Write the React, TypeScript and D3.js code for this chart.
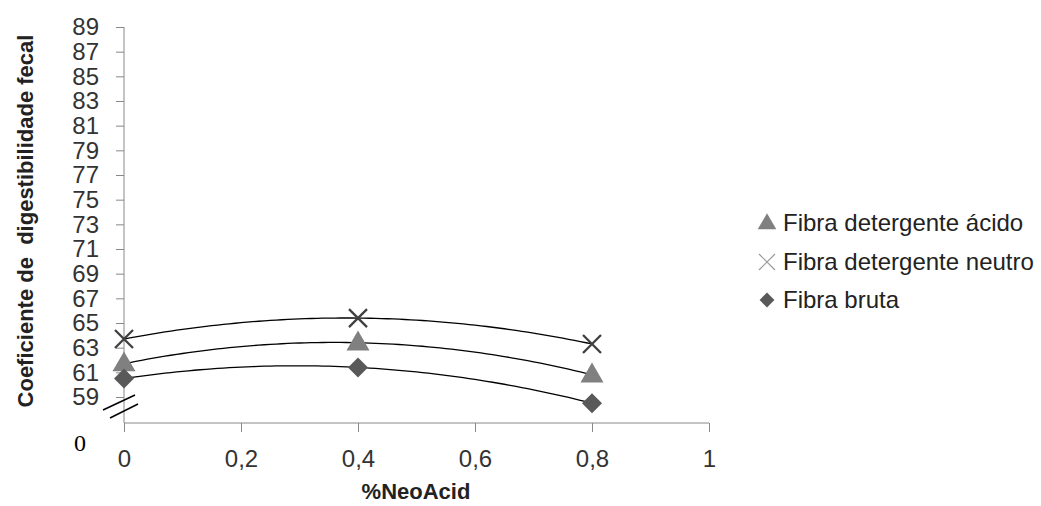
import React, { useEffect, useRef } from 'react';
import * as d3 from 'd3';

// %NeoAcid doses and the digestibility coefficients
const doses = [0, 0.4, 0.8];
const fdaValues = [61.7, 63.4, 60.8];
const fdnValues = [63.7, 65.4, 63.3];
const fbValues = [60.5, 61.4, 58.5];

const yTicks = [59, 61, 63, 65, 67, 69, 71, 73, 75, 77, 79, 81, 83, 85, 87, 89];
const xTicks = [0, 0.2, 0.4, 0.6, 0.8, 1];

const seriesNames = ['Fibra detergente ácido', 'Fibra detergente neutro', 'Fibra bruta'];

const FONT = '"Liberation Sans", Arial, sans-serif';

// second order trend line through three points (Lagrange form)
const quadratic = (xs: number[], ys: number[]) => (x: number) => {
  let sum = 0;
  for (let i = 0; i < 3; i++) {
    let term = ys[i];
    for (let j = 0; j < 3; j++) {
      if (j !== i) term *= (x - xs[j]) / (xs[i] - xs[j]);
    }
    sum += term;
  }
  return sum;
};

export default function App() {
  const chartRef = useRef<SVGSVGElement>(null);

  useEffect(() => {
    const width = 1041;
    const height = 506;
    const axisY = 423;

    const svg = d3.select(chartRef.current);
    svg.selectAll('*').remove();
    svg.attr('width', width).attr('height', height);

    svg.append('rect').attr('width', width).attr('height', height).attr('fill', '#fff');

    const xScale = d3.scaleLinear().domain([0, 1]).range([124, 709]);
    const yScale = d3.scaleLinear().domain([59, 89]).range([397, 27]);

    // y axis
    const yAxis = d3.axisLeft(yScale).tickValues(yTicks).tickSize(8).tickPadding(17);
    const gy = svg.append('g').attr('transform', `translate(${xScale(0)},0)`).call(yAxis);
    gy.select('.domain').remove();
    gy.selectAll('line').attr('stroke', '#888');
    gy.selectAll('text')
      .attr('font-family', FONT)
      .attr('font-size', 24)
      .attr('fill', '#333');

    svg.append('line')
      .attr('x1', xScale(0)).attr('x2', xScale(0))
      .attr('y1', yScale(89)).attr('y2', axisY)
      .attr('stroke', '#888');

    // x axis
    const xAxis = d3.axisBottom(xScale)
      .tickValues(xTicks)
      .tickSize(9)
      .tickPadding(18)
      .tickFormat(d => String(d).replace('.', ','));
    const gx = svg.append('g').attr('transform', `translate(0,${axisY})`).call(xAxis);
    gx.select('.domain').attr('stroke', '#888').attr('d', `M${xScale(0)},0H${xScale(1)}`);
    gx.selectAll('line').attr('stroke', '#888');
    gx.selectAll('text')
      .attr('font-family', FONT)
      .attr('font-size', 24)
      .attr('fill', '#333');

    // axis break marks
    svg.append('line').attr('x1', 103).attr('y1', 410).attr('x2', 135).attr('y2', 395)
      .attr('stroke', '#000').attr('stroke-width', 1.5);
    svg.append('line').attr('x1', 110).attr('y1', 418).attr('x2', 138).attr('y2', 404)
      .attr('stroke', '#000').attr('stroke-width', 1.5);

    svg.append('text')
      .attr('x', 80).attr('y', 451)
      .attr('text-anchor', 'middle')
      .attr('font-family', '"Liberation Serif", "Times New Roman", serif')
      .attr('font-size', 24)
      .text('0');

    // trend lines
    const line = d3.line<number>().x(d => xScale(d[0])).y(d => yScale(d[1]));
    const samples = d3.range(0, 0.8001, 0.01);
    [fdnValues, fdaValues, fbValues].forEach(vals => {
      const f = quadratic(doses, vals);
      svg.append('path')
        .attr('d', line(samples.map(x => [x, f(x)]) as any))
        .attr('fill', 'none')
        .attr('stroke', '#000')
        .attr('stroke-width', 1.3);
    });

    const triangle = d3.symbol().type(d3.symbolTriangle);
    const diamond = d3.symbol().type(d3.symbolSquare);

    // markers: triangles
    svg.selectAll('.fda')
      .data(doses)
      .enter()
      .append('path')
      .attr('d', triangle.size(230)())
      .attr('transform', (d, i) => `translate(${xScale(d)},${yScale(fdaValues[i]) + 1})`)
      .attr('fill', '#808080');

    // diamonds
    svg.selectAll('.fb')
      .data(doses)
      .enter()
      .append('path')
      .attr('d', diamond.size(200)())
      .attr('transform', (d, i) => `translate(${xScale(d)},${yScale(fbValues[i])}) rotate(45)`)
      .attr('fill', '#595959');

    // crosses
    const xg = svg.selectAll('.fdn')
      .data(doses)
      .enter()
      .append('g')
      .attr('transform', (d, i) => `translate(${xScale(d)},${yScale(fdnValues[i])})`);
    xg.append('path')
      .attr('d', 'M-9,-9L9,9M-9,9L9,-9')
      .attr('stroke', '#404040')
      .attr('stroke-width', 2.3);

    // legend
    const legendY = [223, 262, 300];
    const lg = svg.append('g');
    lg.append('path')
      .attr('d', triangle.size(150)())
      .attr('transform', `translate(767,${legendY[0] + 1})`)
      .attr('fill', '#808080');
    lg.append('path')
      .attr('d', 'M-8,-8L8,8M-8,8L8,-8')
      .attr('transform', `translate(767,${legendY[1]})`)
      .attr('stroke', '#999')
      .attr('stroke-width', 1.2);
    lg.append('path')
      .attr('d', diamond.size(110)())
      .attr('transform', `translate(767,${legendY[2]}) rotate(45)`)
      .attr('fill', '#595959');
    lg.selectAll('text')
      .data(seriesNames)
      .enter()
      .append('text')
      .attr('x', 783)
      .attr('y', (d, i) => legendY[i])
      .attr('dy', '0.35em')
      .attr('font-family', FONT)
      .attr('font-size', 24)
      .attr('fill', '#222')
      .text(d => d);

    // axis titles
    svg.append('text')
      .attr('transform', 'translate(33,221) rotate(-90)')
      .attr('text-anchor', 'middle')
      .attr('font-family', FONT)
      .attr('font-weight', 'bold')
      .attr('font-size', 22)
      .attr('fill', '#222')
      .text('Coeficiente de  digestibilidade fecal')
      .style('white-space', 'pre');

    svg.append('text')
      .attr('x', 416).attr('y', 499)
      .attr('text-anchor', 'middle')
      .attr('font-family', FONT)
      .attr('font-weight', 'bold')
      .attr('font-size', 22)
      .attr('fill', '#222')
      .text('%NeoAcid');
  }, []);

  return (
    <svg
      ref={chartRef}
      style={{ position: 'absolute', left: 0, top: 0, display: 'block' }}
    />
  );
}
